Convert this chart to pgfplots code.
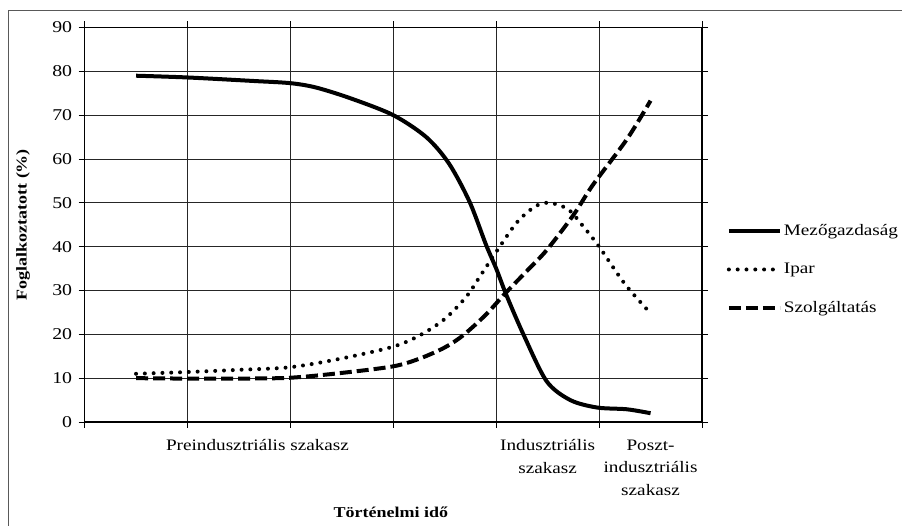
\documentclass[border=0pt]{standalone}
\usepackage{fontspec}
\setmainfont{Liberation Serif}[FakeStretch=1.2]
\usepackage{pgfplots}
\pgfplotsset{compat=1.18}
\begin{document}
\begin{tikzpicture}
\path[use as bounding box] (0,0) rectangle (902pt,526pt);
\draw[black!65, line width=1pt] (8.6pt,-10pt) rectangle (930pt,515.3pt);
\begin{axis}[
  at={(84.6pt,104pt)}, anchor=south west,
  scale only axis, width=617.4pt, height=394.5pt,
  xmin=0, xmax=6, ymin=0, ymax=90,
  ytick={0,10,...,90},
  xtick={0,1,...,6}, xticklabels={},
  ymajorgrids, xmajorgrids,
  major grid style={black!85, line width=0.7pt},
  axis line style={line width=1.7pt},
  tick align=outside, major tick length=6pt,
  tick style={black, line width=0.7pt},
  extra x ticks={1.68,4.5,5.5},
  extra x tick labels={Preindusztriális szakasz, {Indusztriális\\szakasz}, {Poszt-\\indusztriális\\szakasz}},
  extra x tick style={grid=none, major tick length=0pt, tick style={draw=none}},
  xticklabel style={align=center, font=\fontsize{16}{22.5}\selectfont, anchor=north, yshift=-14pt},
  yticklabel style={font=\fontsize{16.5}{19}\selectfont, xshift=-3pt},
  /pgf/number format/assume math mode=true,
  xlabel={\textbf{Történelmi idő}},
  xlabel style={at={(axis description cs:0.496,-0.228)}, anchor=center, font=\fontsize{15}{18}\selectfont},
  ylabel={\textbf{Foglalkoztatott (\%)}},
  ylabel style={at={(axis description cs:-0.0998,0.5)}, anchor=center, font=\fontsize{15}{18}\selectfont},
  legend style={at={(1.040,0.3866)}, anchor=west, draw=none, fill=none, font=\fontsize{16}{19}\selectfont, row sep=22pt, inner sep=0pt},
  legend cell align=left,
  legend image code/.code={\draw[#1] (0pt,0pt) -- (51pt,0pt);},
]
\addplot[black, line width=4pt, smooth] coordinates {
(0.5,79.0)(1.0,78.6)(1.64,77.8)(2.0,77.3)(2.25,76.3)(2.59,73.8)(3.0,70.0)(3.32,65.0)(3.54,59)(3.74,50.3)(3.9,40.5)(4.0,35)(4.1,28.9)(4.27,19.7)(4.49,9.3)(4.72,5.0)(4.98,3.3)(5.27,2.9)(5.5,2.0)
};
\addlegendentry{Mezőgazdaság}
\addplot[black, line width=4pt, line cap=round, dash pattern=on 0pt off 8.8pt, smooth] coordinates {
(0.5,11.0)(1.0,11.4)(1.5,11.9)(2.0,12.5)(2.5,14.5)(3.0,17.2)(3.26,19.8)(3.5,23.5)(3.71,28.6)(3.85,33.5)(4.0,38.8)(4.2,45.5)(4.38,49.2)(4.52,50.0)(4.7,48.5)(4.85,44.5)(5.0,40)(5.25,31.5)(5.5,24.8)
};
\addlegendentry{Ipar}
\addplot[black, line width=4pt, dash pattern=on 12pt off 5pt, smooth] coordinates {
(0.5,10)(1.0,9.9)(1.5,9.9)(2.0,10.1)(2.5,11.2)(3.0,12.7)(3.26,14.5)(3.5,17)(3.68,19.8)(3.9,24.5)(4.09,29.4)(4.3,34.5)(4.49,39.2)(4.75,47.2)(4.94,54.1)(5.27,64.5)(5.5,73.3)
};
\addlegendentry{Szolgáltatás}
\end{axis}
\end{tikzpicture}
\end{document}
